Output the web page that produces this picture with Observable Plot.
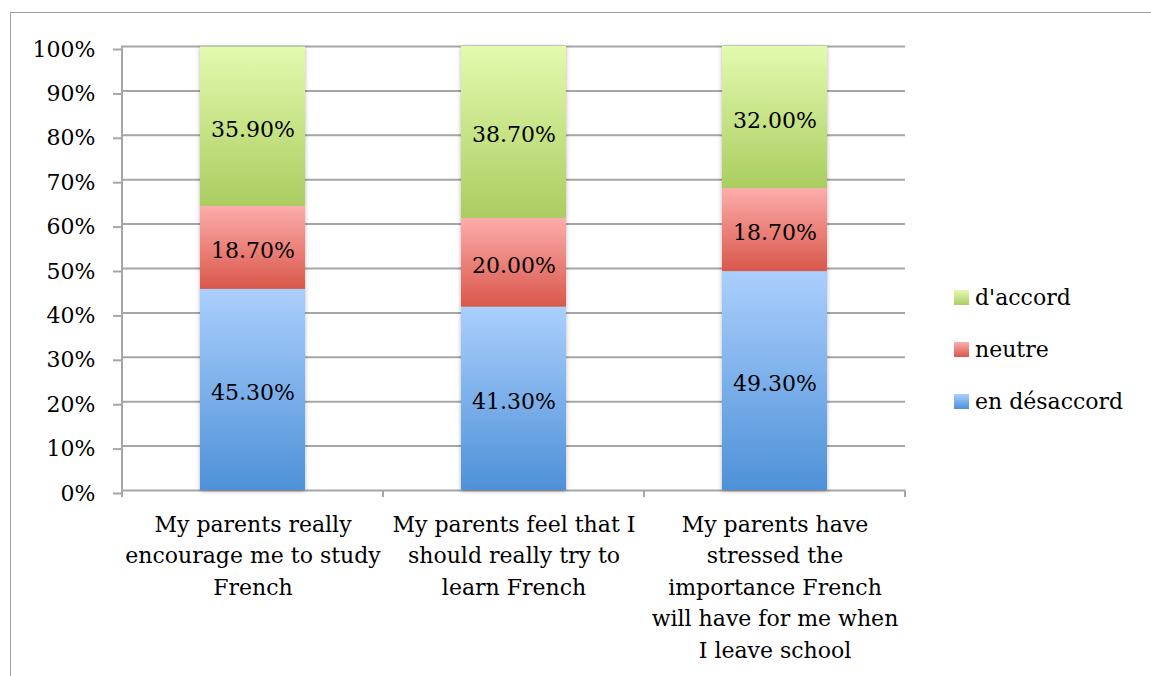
<!DOCTYPE html>
<html>
<head>
<meta charset="utf-8">
<script src="https://cdn.jsdelivr.net/npm/d3@7"></script>
<script src="https://cdn.jsdelivr.net/npm/@observablehq/plot@0.6"></script>
<style>
body{margin:0;background:#fff}
#wrap{position:relative;width:1151px;height:676px;overflow:hidden;font-family:"DejaVu Serif",serif;background:#fff}
#frame{position:absolute;left:10px;top:12px;width:1170px;height:720px;border:1.5px solid #a0a0a0;box-sizing:border-box}
#chart{position:absolute;left:0;top:0}
.legend-row{position:absolute;left:954px;height:30px;display:flex;align-items:center;font-size:22px;color:#000;white-space:nowrap}
.legend-sw{width:15px;height:15px;margin-right:6px;flex:none}
g.bars{filter:drop-shadow(0 1px 2px rgba(0,0,0,0.3))}
</style>
</head>
<body>
<div id="wrap"><div id="frame"></div><div id="chart"></div></div>
<script>
const categories = [
  "My parents really\nencourage me to study\nFrench",
  "My parents feel that I\nshould really try to\nlearn French",
  "My parents have\nstressed the\nimportance French\nwill have for me when\nI leave school"
];
const seriesNames = ["en désaccord", "neutre", "d'accord"];
const desaccord = [45.3, 41.3, 49.3];
const neutre = [18.7, 20.0, 18.7];
const accord = [35.9, 38.7, 32.0];
const yTicks = [0, 10, 20, 30, 40, 50, 60, 70, 80, 90, 100];

const seriesValues = [desaccord, neutre, accord];
const gradients = [
  {id: "gBlue", top: "#abcffd", bottom: "#4e91d8"},
  {id: "gRed", top: "#fdadab", bottom: "#d9574b"},
  {id: "gGreen", top: "#e3faaf", bottom: "#abcd60"}
];

const data = categories.flatMap((c, i) =>
  seriesNames.map((s, j) => ({cat: c, series: s, value: seriesValues[j][i]}))
);

const plot = Plot.plot({
  width: 1151,
  height: 676,
  marginLeft: 121,
  marginRight: 246,
  marginTop: 46,
  marginBottom: 186,
  style: {fontFamily: "DejaVu Serif", fontSize: "22px", color: "black", background: "transparent", overflow: "visible"},
  x: {domain: categories, padding: 0, label: null},
  y: {domain: [0, 100], label: null},
  color: {domain: seriesNames, range: gradients.map(g => `url(#${g.id})`)},
  marks: [
    Plot.gridY(yTicks, {stroke: "#a6a6a6", strokeOpacity: 1, strokeWidth: 2}),
    Plot.axisY(yTicks, {tickSize: 8, tickPadding: 18, stroke: "#a6a6a6", strokeWidth: 2, strokeOpacity: 1, fill: "black", tickFormat: d => d + "%", dy: 3, label: null}),
    Plot.axisX({tickSize: 0, tickPadding: 19, lineHeight: 1.43, fill: "black", label: null}),
    Plot.barY(data, Plot.stackY({x: "cat", y: "value", z: "series", fill: "series", insetLeft: 78, insetRight: 78, className: "bars"})),
    Plot.text(data, Plot.stackY({x: "cat", y: "value", z: "series", text: d => d3.format(".2f")(d.value) + "%", fill: "black", dy: 3}))
  ]
});

// gradient defs
const svg = d3.select(plot);
const defs = svg.insert("defs", ":first-child");
gradients.forEach(g => {
  const lg = defs.append("linearGradient").attr("id", g.id).attr("x1", 0).attr("y1", 0).attr("x2", 0).attr("y2", 1);
  lg.append("stop").attr("offset", "0%").attr("stop-color", g.top);
  lg.append("stop").attr("offset", "100%").attr("stop-color", g.bottom);
});

// y axis line and x ticks at band edges, via the plot's scales
const xs = plot.scale("x");
const ys = plot.scale("y");
const edges = categories.map(c => xs.apply(c)).concat([xs.apply(categories[categories.length - 1]) + xs.bandwidth]);
const y0 = ys.apply(0), y100 = ys.apply(100);
const axisG = svg.append("g").attr("stroke", "#a6a6a6").attr("stroke-width", 2);
axisG.append("line").attr("x1", edges[0]).attr("x2", edges[0]).attr("y1", y100).attr("y2", y0 + 7);
edges.forEach(e => axisG.append("line").attr("x1", e).attr("x2", e).attr("y1", y0).attr("y2", y0 + 7));

document.getElementById("chart").appendChild(plot);

// legend
const wrap = document.getElementById("wrap");
const legendTops = [282.5, 334.5, 386.5];
seriesNames.slice().reverse().forEach((s, i) => {
  const g = gradients[seriesNames.indexOf(s)];
  const row = document.createElement("div");
  row.className = "legend-row";
  row.style.top = legendTops[i] + "px";
  const sw = document.createElement("div");
  sw.className = "legend-sw";
  sw.style.background = `linear-gradient(${g.top}, ${g.bottom})`;
  const t = document.createElement("span");
  t.textContent = s;
  row.appendChild(sw);
  row.appendChild(t);
  wrap.appendChild(row);
});
</script>
</body>
</html>
